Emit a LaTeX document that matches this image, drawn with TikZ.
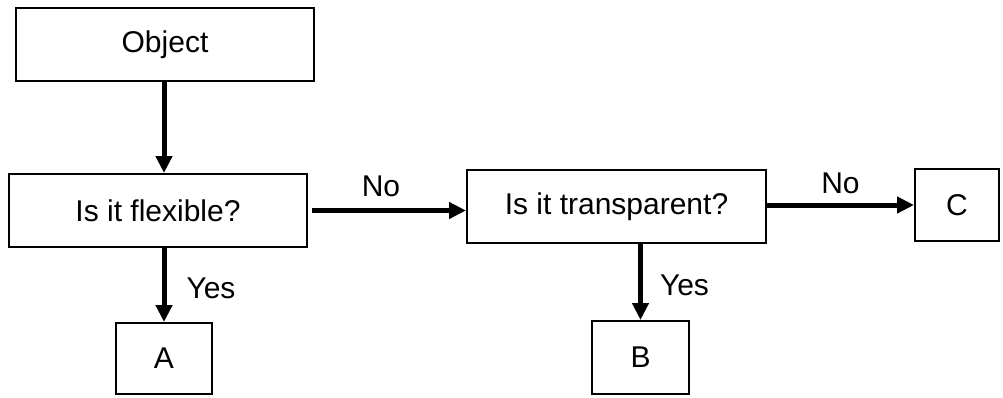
\documentclass[tikz,border=0pt]{standalone}
\usepackage{fontspec}
\setmainfont{Liberation Sans}
\usetikzlibrary{arrows.meta}

\begin{document}
\begin{tikzpicture}
[lineDecorate/.style={-{Triangle[length=17pt,width=16pt]},line width=5pt},%
  nodeDecorate/.style={shape=rectangle,inner sep=0pt,draw,line width=2pt,
    font=\fontsize{30}{36}\selectfont},
  labelDecorate/.style={inner sep=0pt,font=\fontsize{30}{36}\selectfont},
  x=1pt,y=-1pt]
\useasboundingbox (0,0) rectangle (1003,397);
%% nodes or boxes
\foreach \nodename/\x/\y/\w/\h/\txt in {
  obj/165/44.5/298/73/{Object},
  flex/158/210.5/298/73/{Is it flexible?},
  trans/616.5/206.5/299/73/{Is it transparent?},
  A/164/358.5/96/71/{A},
  B/640.5/357.5/97/73/{B},
  C/957/205/84/72/{C}}
{
  \node (\nodename) at (\x,\y) [nodeDecorate,minimum width=\w pt,minimum height=\h pt] {\txt};
}
%% edges or arrows
\draw[lineDecorate] (obj.south -| A) -- (flex.north -| A);
\draw[lineDecorate] (flex.south -| A) -- node[labelDecorate,right=20pt,yshift=-3pt] {Yes} (A.north);
\draw[lineDecorate] ([xshift=4pt]flex.east) -- node[labelDecorate,above=11pt,xshift=-8pt] {No} (flex.east -| trans.west);
\draw[lineDecorate] (trans.south -| B) -- node[labelDecorate,right=17pt,yshift=-3pt] {Yes} (B.north);
\draw[lineDecorate] (trans.east |- C) -- node[labelDecorate,above=9pt] {No} (C.west);
\end{tikzpicture}
\end{document}
